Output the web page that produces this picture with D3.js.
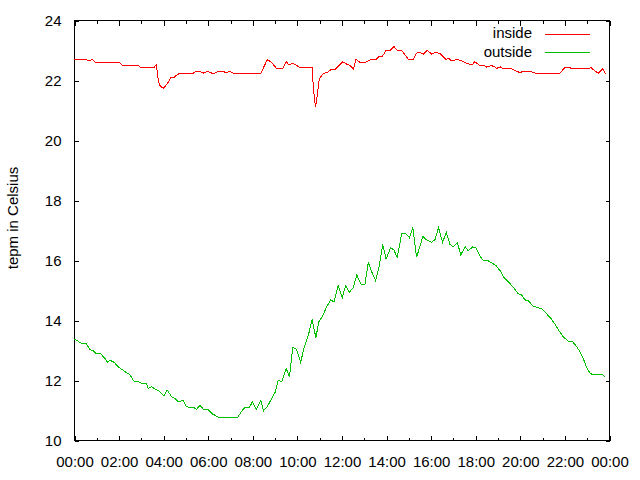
<!DOCTYPE html>
<html>
<head>
<meta charset="utf-8">
<script src="https://cdn.jsdelivr.net/npm/d3@7"></script>
<style>
html,body{margin:0;padding:0;background:#fff;}
svg{display:block;font-family:"Liberation Sans",Arial,sans-serif;}
</style>
</head>
<body>
<svg id="chart" width="640" height="480"></svg>
<script>
// ---- data (minutes since midnight, temperature in Celsius) ----
const insideMinutes = [1,32,40,49,58,122,129,171,178,216,221,223,227,231,240,251,261,270,276,285,321,329,339,348,359,371,380,388,402,409,419,429,503,520,530,546,561,571,579,589,608,641,644,650,653,657,660,671,683,689,703,723,734,743,752,759,770,783,801,813,822,830,840,851,861,870,882,900,913,922,931,940,951,963,972,985,1001,1009,1017,1030,1044,1057,1071,1079,1091,1102,1111,1124,1133,1138,1147,1156,1178,1190,1201,1209,1227,1241,1308,1322,1331,1342,1384,1391,1402,1411,1423,1431];
const insideTemps = [22.69,22.69,22.63,22.69,22.58,22.58,22.50,22.50,22.43,22.43,22.50,22.36,21.99,21.82,21.72,21.87,22.09,22.09,22.16,22.23,22.23,22.29,22.29,22.23,22.29,22.23,22.23,22.29,22.29,22.23,22.29,22.23,22.23,22.67,22.61,22.37,22.37,22.61,22.50,22.56,22.42,22.42,21.78,21.09,21.33,21.72,22.03,22.22,22.26,22.33,22.36,22.61,22.53,22.48,22.37,22.69,22.58,22.58,22.69,22.69,22.79,22.79,22.99,22.99,23.12,22.99,22.99,22.69,22.69,22.89,22.93,22.86,22.99,22.86,22.92,22.89,22.69,22.72,22.63,22.69,22.63,22.56,22.50,22.61,22.50,22.50,22.43,22.48,22.43,22.39,22.44,22.37,22.37,22.30,22.24,22.30,22.30,22.23,22.23,22.43,22.43,22.37,22.37,22.42,22.30,22.23,22.37,22.19];

const outsideMinutes = [1,9,19,32,43,52,61,72,83,90,97,108,119,137,151,160,173,180,194,200,209,223,231,242,251,263,272,281,293,303,312,321,330,339,348,360,371,380,388,441,451,460,472,480,491,503,510,520,532,541,550,559,571,580,589,599,610,620,631,641,651,659,669,680,691,700,711,722,731,741,752,761,773,783,792,801,812,822,831,840,852,861,870,882,894,903,912,922,939,949,963,972,981,992,1002,1012,1021,1032,1041,1053,1061,1073,1082,1091,1102,1111,1124,1136,1147,1156,1169,1183,1196,1205,1214,1223,1235,1247,1259,1271,1283,1295,1306,1317,1331,1342,1353,1362,1371,1380,1389,1398,1423,1431];
const outsideTemps = [13.36,13.31,13.23,13.22,13.02,12.97,12.87,12.87,12.72,12.60,12.66,12.59,12.44,12.28,12.17,11.97,11.94,11.90,11.90,11.72,11.77,11.67,11.61,11.47,11.66,11.44,11.38,11.27,11.33,11.11,11.09,11.09,11.02,11.16,11.03,11.03,10.88,10.82,10.76,10.76,10.96,11.08,11.08,11.27,11.02,11.32,10.97,11.11,11.38,11.58,12.00,11.94,12.39,12.11,13.09,13.02,12.59,13.11,13.50,14.02,13.41,13.94,14.13,14.44,14.67,14.60,15.14,14.74,15.14,14.92,15.09,15.50,15.19,15.17,15.92,15.61,15.31,15.83,16.52,16.03,16.41,16.33,16.09,16.87,16.87,16.74,17.08,16.09,16.78,16.67,16.59,16.69,17.08,16.59,16.92,16.52,16.44,16.58,16.17,16.44,16.30,16.44,16.41,16.17,15.97,16.00,15.91,15.81,15.64,15.44,15.28,15.08,14.87,14.83,14.67,14.64,14.47,14.42,14.37,14.22,14.06,13.86,13.63,13.44,13.29,13.28,13.11,12.94,12.71,12.41,12.22,12.17,12.17,12.09];

const seriesNames = ["inside", "outside"];
const seriesColors = ["#ff0000", "#00c000"];

const xMajorTicks = [0,120,240,360,480,600,720,840,960,1080,1200,1320,1440];
const xTickLabels = ["00:00","02:00","04:00","06:00","08:00","10:00","12:00","14:00","16:00","18:00","20:00","22:00","00:00"];
const xMinorTicks = [60,180,300,420,540,660,780,900,1020,1140,1260,1380];
const yTicks = [10,12,14,16,18,20,22,24];
const yTitle = "tepm in Celsius";

// ---- layout ----
const L = 74, R = 609, T = 20, B = 440;
const svg = d3.select("#chart");
const x = d3.scaleLinear().domain([0,1440]).range([L, R]);
const y = d3.scaleLinear().domain([10,24]).range([B, T]);
const fontSize = 15;

const g = svg.append("g").attr("transform","translate(0.5,0.5)");

function styleAxis(sel){
  sel.select(".domain").remove();
  sel.selectAll("line").attr("stroke","#000").attr("shape-rendering","crispEdges");
  sel.selectAll("text").attr("fill","#000").style("font-size",fontSize+"px").style("font-family","'Liberation Sans',Arial,sans-serif");
}

// bottom major
g.append("g").attr("transform",`translate(0,${B})`)
  .call(d3.axisBottom(x).tickValues(xMajorTicks).tickSize(-5).tickPadding(16)
        .tickFormat((d,i)=>xTickLabels[i]))
  .call(styleAxis);
// bottom minor
g.append("g").attr("transform",`translate(0,${B})`)
  .call(d3.axisBottom(x).tickValues(xMinorTicks).tickSize(-3).tickFormat(""))
  .call(styleAxis);
// top mirror
g.append("g").attr("transform",`translate(0,${T})`)
  .call(d3.axisTop(x).tickValues(xMajorTicks).tickSize(-5).tickFormat(""))
  .call(styleAxis);
g.append("g").attr("transform",`translate(0,${T})`)
  .call(d3.axisTop(x).tickValues(xMinorTicks).tickSize(-3).tickFormat(""))
  .call(styleAxis);
// left
g.append("g").attr("transform",`translate(${L},0)`)
  .call(d3.axisLeft(y).tickValues(yTicks).tickSize(-4).tickPadding(13).tickFormat(d3.format("d")))
  .call(styleAxis);
// right mirror
g.append("g").attr("transform",`translate(${R},0)`)
  .call(d3.axisRight(y).tickValues(yTicks).tickSize(-4).tickFormat(""))
  .call(styleAxis);

// border
g.append("rect").attr("x",L).attr("y",T).attr("width",R-L).attr("height",B-T)
  .attr("fill","none").attr("stroke","#000").attr("shape-rendering","crispEdges");

// y title
svg.append("text")
  .attr("transform","translate(18,218) rotate(-90)")
  .attr("text-anchor","middle")
  .style("font-size",fontSize+"px")
  .text(yTitle);

// lines
const series = [
  {name: seriesNames[0], color: seriesColors[0], pts: insideMinutes.map((m,i)=>[m, insideTemps[i]])},
  {name: seriesNames[1], color: seriesColors[1], pts: outsideMinutes.map((m,i)=>[m, outsideTemps[i]])}
];
const line = d3.line().x(d=>x(d[0])).y(d=>y(d[1]));
svg.selectAll("path.series").data(series).join("path")
  .attr("class","series")
  .attr("d", d=>line(d.pts))
  .attr("fill","none")
  .attr("stroke", d=>d.color)
  .attr("stroke-width",1)
  .attr("shape-rendering","crispEdges");

// legend
const leg = svg.append("g");
series.forEach((s,i)=>{
  const yy = 33.5 + i*18.7;
  leg.append("text").attr("x",532).attr("y",yy+4.5)
    .attr("text-anchor","end").style("font-size",fontSize+"px").text(s.name);
  leg.append("line").attr("x1",545).attr("x2",590).attr("y1",Math.round(yy)+0.5).attr("y2",Math.round(yy)+0.5)
    .attr("stroke",s.color).attr("stroke-width",1).attr("shape-rendering","crispEdges");
});
</script>
</body>
</html>
